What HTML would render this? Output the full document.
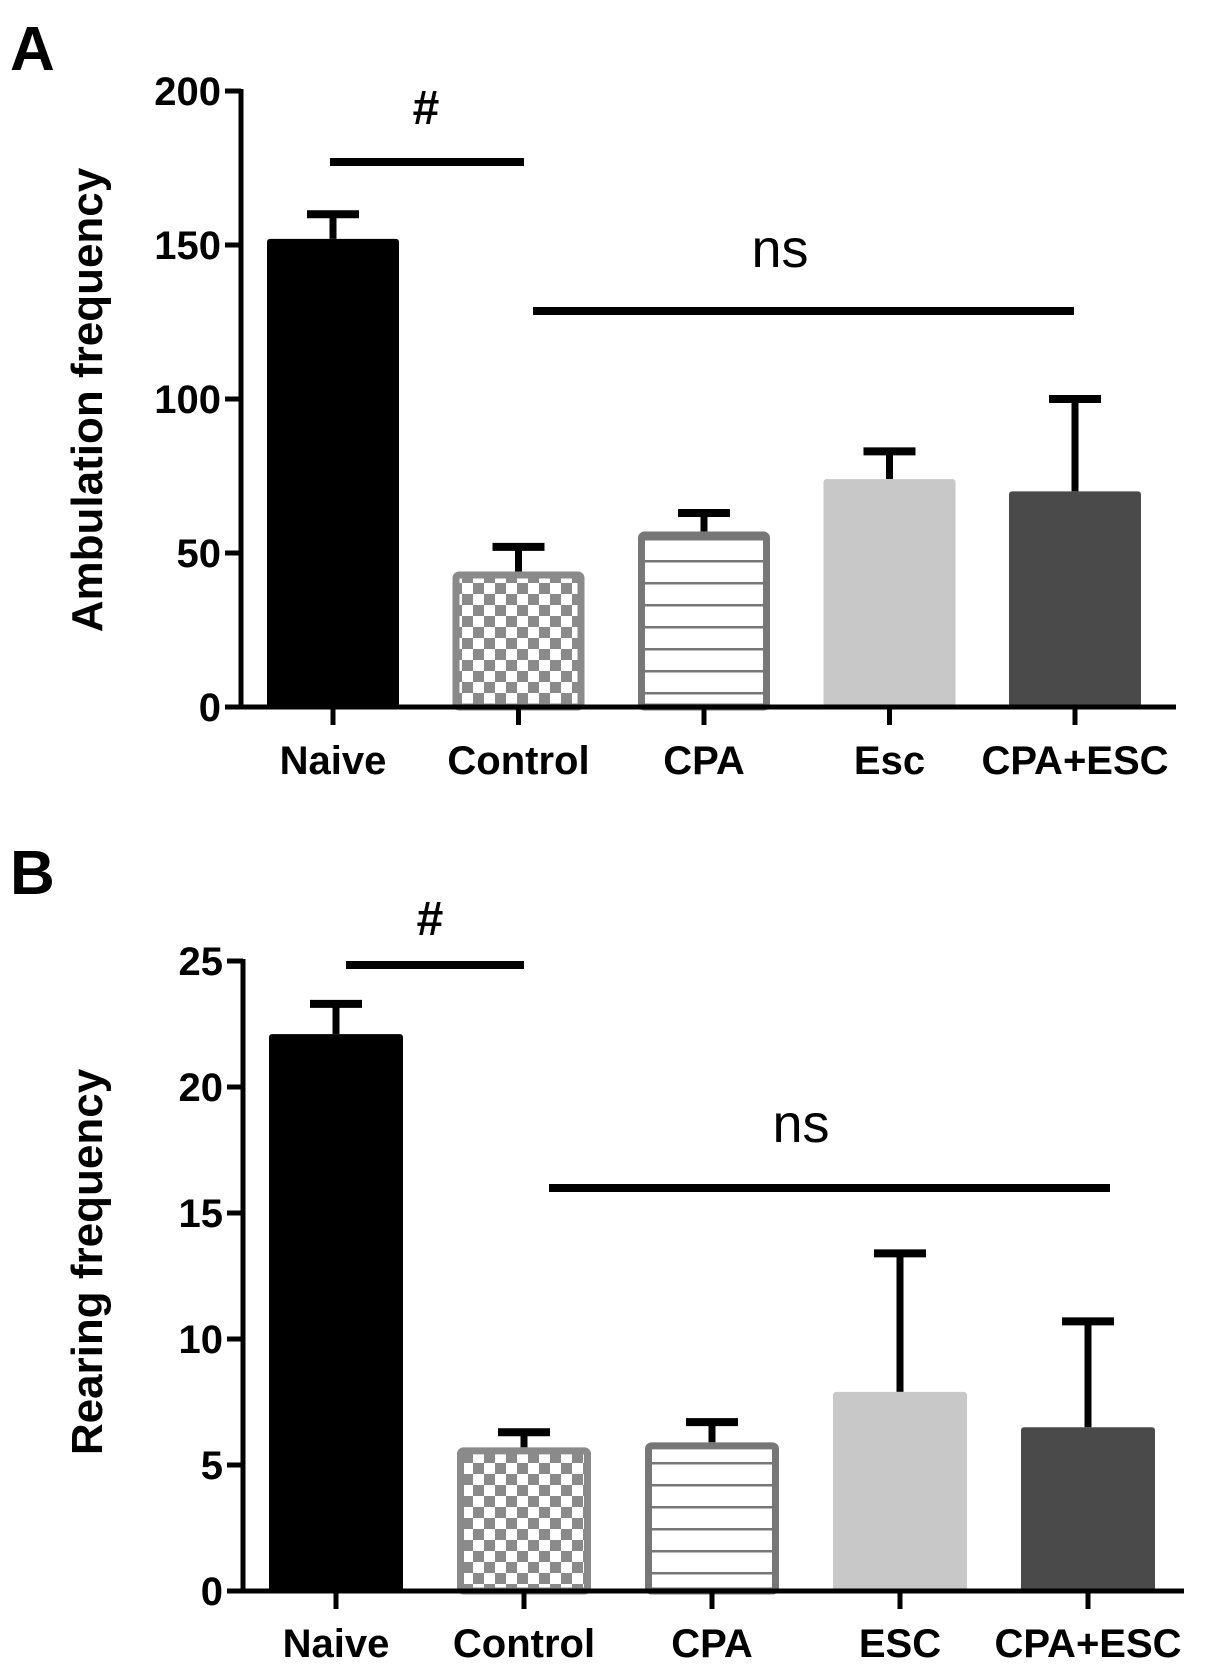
<!DOCTYPE html>
<html><head><meta charset="utf-8"><style>
html,body{margin:0;padding:0;background:#fff;}
svg{display:block;font-family:"Liberation Sans",Arial,sans-serif;font-weight:bold;}
</style></head><body>
<svg id="fig" width="1205" height="1670" viewBox="0 0 1205 1670">
<defs>
<pattern id="checker" width="22" height="22" patternUnits="userSpaceOnUse">
<rect width="22" height="22" fill="#fff"/><rect width="11" height="11" fill="#8a8a8a"/><rect x="11" y="11" width="11" height="11" fill="#8a8a8a"/>
</pattern>
<pattern id="hlines" width="10" height="22" patternUnits="userSpaceOnUse">
<rect width="10" height="22" fill="#fff"/><rect y="10" width="10" height="2.5" fill="#777"/>
</pattern>
</defs>
</svg>
<script>
const catsA=["Naive","Control","CPA","Esc","CPA+ESC"];
const meanA=[152,44,57,74,70];
const errA=[160,52,63,83,100];
const ticksA=[0,50,100,150,200];
const catsB=["Naive","Control","CPA","ESC","CPA+ESC"];
const meanB=[22.1,5.7,5.9,7.9,6.5];
const errB=[23.3,6.3,6.7,13.4,10.7];
const ticksB=[0,5,10,15,20,25];

const NS="http://www.w3.org/2000/svg";
const svg=document.getElementById('fig');
const styles=[
 {fill:"#000",stroke:"none"},
 {fill:"url(#checker)",stroke:"#8a8a8a"},
 {fill:"url(#hlines)",stroke:"#777"},
 {fill:"#c8c8c8",stroke:"none"},
 {fill:"#4a4a4a",stroke:"none"}];
function mk(tag,attrs,parent,text){const e=document.createElementNS(NS,tag);for(const k in attrs)e.setAttribute(k,attrs[k]);if(text!==undefined)e.textContent=text;(parent||svg).appendChild(e);return e;}

function panel(cfg){
 const g=mk('g',{});
 
 
 const y=v=>cfg.y0-(v/cfg.max)*(cfg.y0-cfg.yTop);
 const x=i=>cfg.x0c+i*cfg.pitch;
 const lab=mk('text',{x:cfg.letterX,y:cfg.letterY,'font-size':62},g,cfg.letter);
 
 
 cfg.means.forEach((m,i)=>{
  const st=styles[i];
  const bw=cfg.bw, sw=st.stroke==="none"?0:7;
  const top=y(m);
  const eb=mk('line',{x1:x(i),x2:x(i),y1:y(cfg.errs[i]),y2:top,stroke:"#000",'stroke-width':7},g);
  
  
  const cap=mk('line',{x1:x(i)-26,x2:x(i)+26,y1:y(cfg.errs[i]),y2:y(cfg.errs[i]),stroke:"#000",'stroke-width':8},g);
  
  
  const r=mk('rect',{x:x(i)-bw/2+sw/2,y:top+sw/2,width:bw-sw,height:cfg.y0-top-sw/2,fill:st.fill,stroke:st.stroke==="none"?"none":st.stroke,'stroke-width':sw,rx:3},g);
  
  
  const t=mk('line',{x1:x(i),x2:x(i),y1:cfg.y0,y2:cfg.y0+18,stroke:"#000",'stroke-width':5},g);
  
  
  const tl=mk('text',{x:x(i),y:cfg.labY,'text-anchor':'middle','font-size':40},g,cfg.cats[i]);
  
  
 });
 const ya=mk('line',{x1:cfg.ax,x2:cfg.ax,y1:cfg.yTop-2,y2:cfg.y0+2,stroke:"#000",'stroke-width':5},g);
 
 
 const xa=mk('line',{x1:cfg.ax-2,x2:cfg.axEnd,y1:cfg.y0,y2:cfg.y0,stroke:"#000",'stroke-width':5},g);
 
 
 cfg.ticks.forEach(v=>{
  const t=mk('line',{x1:cfg.ax-16,x2:cfg.ax,y1:y(v),y2:y(v),stroke:"#000",'stroke-width':5},g);
  
  
  const tl=mk('text',{x:cfg.ax-20,y:y(v)+14,'text-anchor':'end','font-size':40},g,String(v));
  
  
 });
 const yt=mk('text',{x:0,y:0,'text-anchor':'middle','font-size':44,transform:`translate(${cfg.titleX},${cfg.titleY}) rotate(-90)`},g,cfg.title);
 
 
 cfg.sig.forEach(s=>{
  const l=mk('line',{x1:s.x1,x2:s.x2,y1:s.ly,y2:s.ly,stroke:"#000",'stroke-width':8},g);
  
  
  const t=mk('text',{x:s.tx,y:s.ty,'text-anchor':'middle','font-size':s.fs,'font-weight':s.w},g,s.text);
  
  
 });
}
panel({name:'panel-a-ambulation',letter:'A',letterX:10,letterY:70,cats:catsA,means:meanA,errs:errA,ticks:ticksA,max:200,
 y0:707,yTop:91,ax:241,axEnd:1176,x0c:333,pitch:185.5,bw:132,labY:774,title:'Ambulation  frequency',titleX:102,titleY:400,
 sig:[{x1:330,x2:524,ly:162,tx:426,ty:124,text:'#',fs:48,w:'bold'},{x1:533,x2:1074,ly:311,tx:780,ty:267,text:'ns',fs:54,w:'normal'}]});
panel({name:'panel-b-rearing',letter:'B',letterX:10,letterY:894,cats:catsB,means:meanB,errs:errB,ticks:ticksB,max:25,
 y0:1591,yTop:961,ax:243,axEnd:1184,x0c:336,pitch:188,bw:134,labY:1657,title:'Rearing frequency',titleX:102,titleY:1262,
 sig:[{x1:346,x2:524,ly:965,tx:430,ty:935,text:'#',fs:48,w:'bold'},{x1:549,x2:1110,ly:1188,tx:801,ty:1142,text:'ns',fs:54,w:'normal'}]});
</script>
</body></html>
